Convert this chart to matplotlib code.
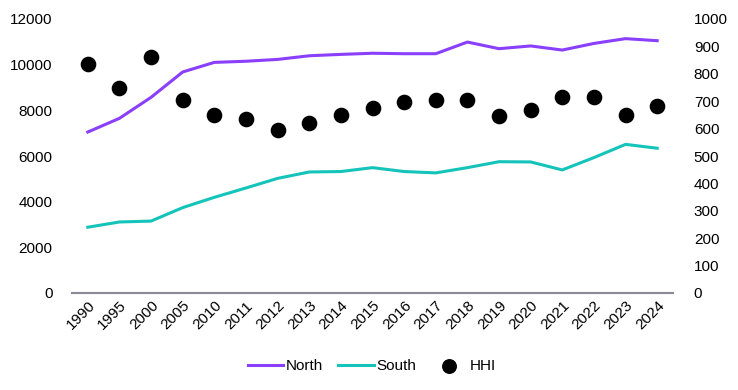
import numpy as np
import matplotlib
matplotlib.use('Agg')
import matplotlib.pyplot as plt

plt.rcParams['font.family'] = ['Liberation Sans', 'DejaVu Sans']

# data
years = ['1990', '1995', '2000', '2005', '2010', '2011', '2012', '2013', '2014', '2015',
         '2016', '2017', '2018', '2019', '2020', '2021', '2022', '2023', '2024']
north = [7050, 7650, 8570, 9680, 10100, 10150, 10230, 10390, 10450, 10500,
         10480, 10480, 10990, 10700, 10820, 10640, 10930, 11140, 11050]
south = [2880, 3110, 3150, 3740, 4190, 4600, 5020, 5300, 5320, 5490,
         5320, 5260, 5490, 5750, 5740, 5390, 5930, 6510, 6340]
hhi = [835, 749, 861, 703, 648, 635, 594, 620, 648, 674,
       697, 706, 706, 647, 669, 714, 714, 648, 681]

x = np.arange(len(years))

fig = plt.figure(figsize=(7.38, 3.9), dpi=100)
ax = fig.add_axes([72 / 738, 1 - 293 / 390, (673 - 72) / 738, (293 - 19) / 390])
ax2 = ax.twinx()

l1, = ax.plot(x, north, color='#8a3ffc', lw=2.2, label='North')
l2, = ax.plot(x, south, color='#14c3b9', lw=2.2, label='South')
s1 = ax2.scatter(x, hhi, s=105, color='black', zorder=3, label='HHI')

ax.set_xlim(-0.5, len(years) - 0.5)
ax.set_ylim(0, 12000)
ax.set_yticks(range(0, 12001, 2000))
ax2.set_ylim(0, 1000)
ax2.set_yticks(range(0, 1001, 100))

ax.set_xticks(x)
ax.set_xticklabels(years, rotation=45, ha='right', rotation_mode='anchor')

for a in (ax, ax2):
    for side in ('top', 'left', 'right'):
        a.spines[side].set_visible(False)
    a.spines['bottom'].set_color('#8c8c99')
    a.spines['bottom'].set_linewidth(1.5)
    a.tick_params(axis='both', length=0, labelsize=11, colors='black')
ax.tick_params(axis='y', pad=14)
ax2.tick_params(axis='y', pad=15)
ax.tick_params(axis='x', pad=4)

fig.legend(handles=[l1, l2, s1], loc='center', bbox_to_anchor=(372 / 738, 1 - 366 / 390),
           ncol=3, frameon=False, fontsize=11, handlelength=2.3, columnspacing=1.0,
           handletextpad=0.2, markerscale=0.95)

fig.savefig('out.png', dpi=100)
